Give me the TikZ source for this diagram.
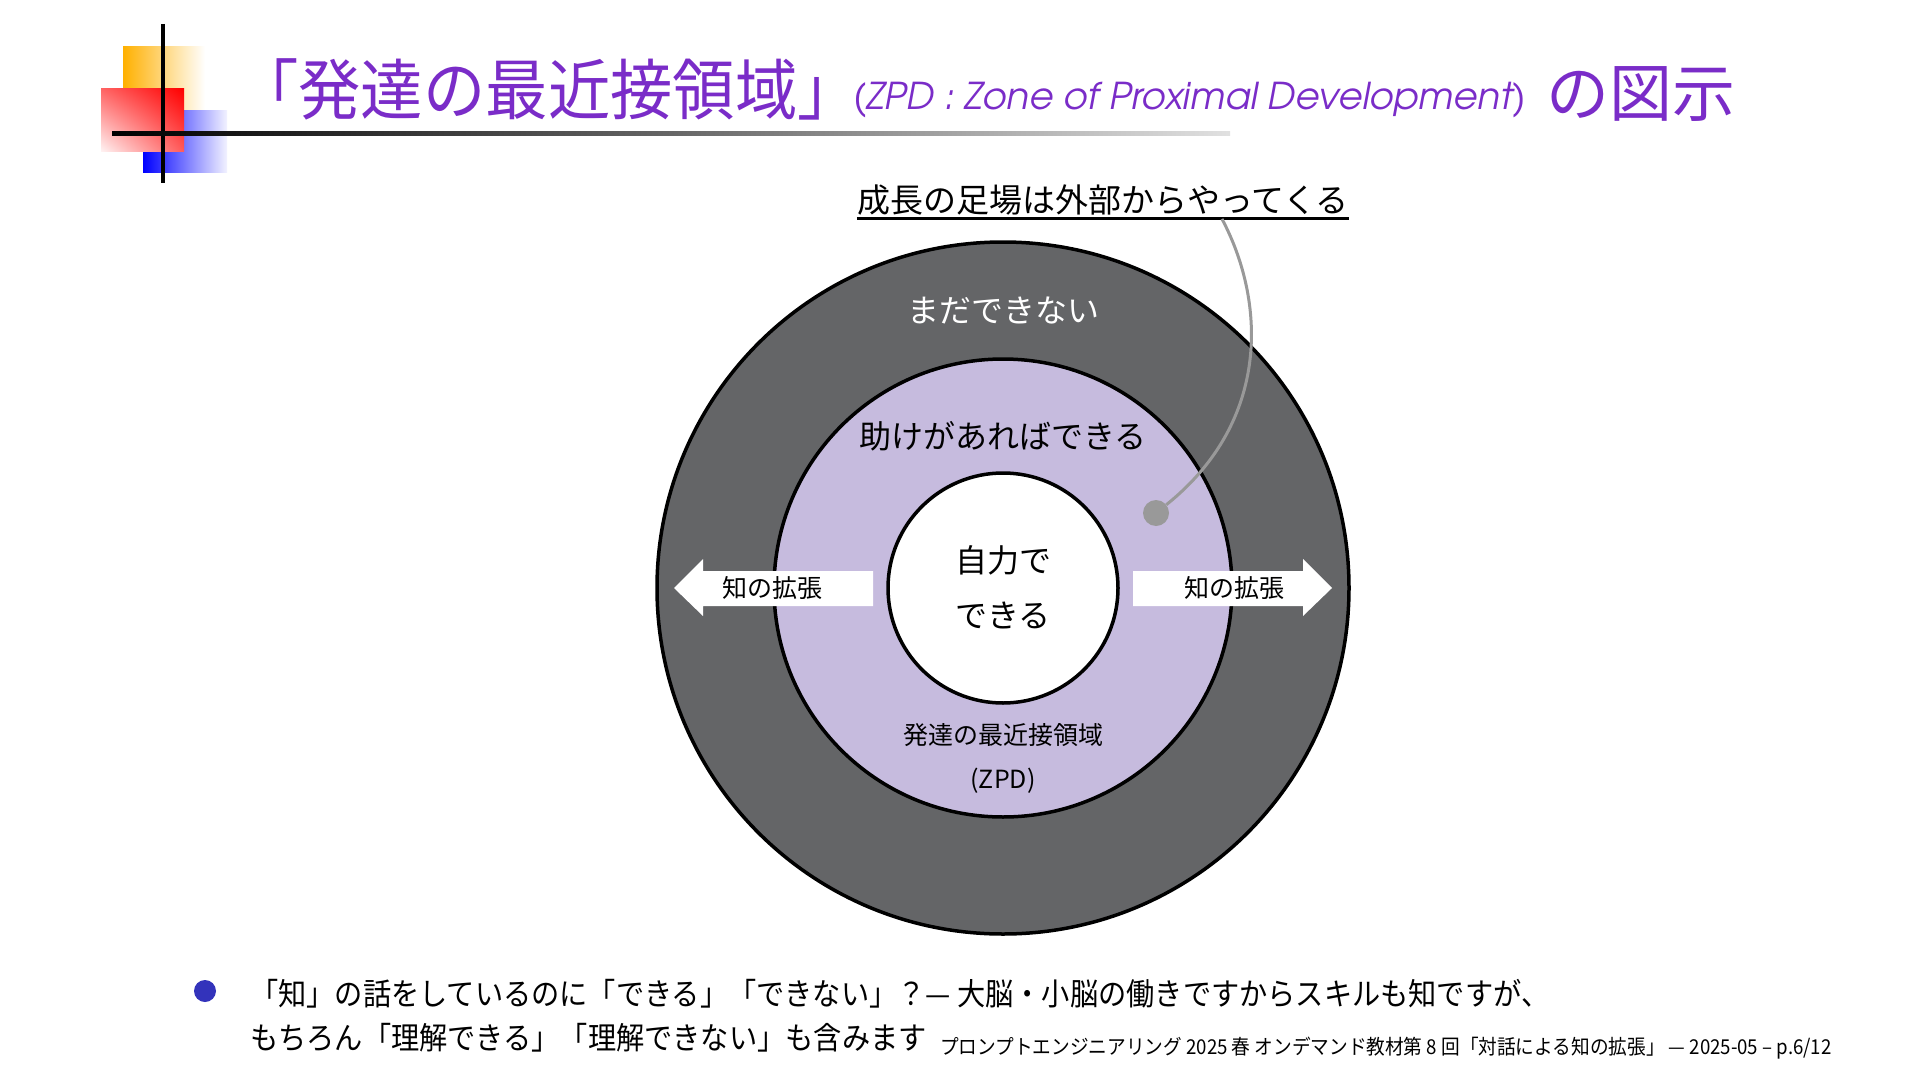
\documentclass[tikz,border=0pt]{standalone}
\usepackage{fontspec}
\usetikzlibrary{shadings}
\setmainfont{Noto Sans CJK JP}
\newfontfamily\jp{Noto Sans CJK JP}
\newfontfamily\jpt[FakeStretch=0.945]{Noto Sans CJK JP}
\newfontfamily\jpb[FakeStretch=0.91]{Noto Sans CJK JP}
\newfontfamily\advit{texgyreadventor-italic.otf}
\definecolor{ttl}{RGB}{122,44,200}
\definecolor{ringgray}{RGB}{100,101,103}
\definecolor{lav}{RGB}{198,187,222}
\definecolor{conn}{RGB}{153,153,153}
\definecolor{bul}{RGB}{51,51,187}
\definecolor{yel}{RGB}{255,176,0}
\tikzset{
  ring/.style={circle, draw=black, line width=3.5pt, inner sep=0pt},
  lbl/.style={inner sep=0pt, font=\jp\fontsize{32}{55}\selectfont, align=center},
  small/.style={inner sep=0pt, font=\jp\fontsize{25}{44}\selectfont, align=center},
  ttltext/.style={anchor=base west, inner sep=0pt, text=ttl},
  body/.style={anchor=west, inner sep=0pt, font=\jpb\fontsize{31}{31}\selectfont},
}
\begin{document}
\begin{tikzpicture}[x=1pt,y=-1pt]
\useasboundingbox (0,0) rectangle (1920,1081);
\fill[white] (0,0) rectangle (1920,1081);
% logo
\shade[left color=yel, right color=white] (123,47) rectangle (205,110);
\shade[left color=blue, right color=blue!5] (143,110) rectangle (227,172);
\shade[upper right=red, lower left=red!5, upper left=red!60, lower right=red!65] (101,89) rectangle (184,151);
\draw[line width=3.5pt] (163,24) -- (163,183);
\shade[left color=black, right color=black!12, middle color=black!60] (112,131) rectangle (1230,135);
% title
\node[ttltext, font=\jpt\fontsize{66}{66}\selectfont] (t1) at (236,114) {「発達の最近接領域」};
\node[ttltext, font=\advit\fontsize{37}{37}\selectfont] (t2) at (853,110) {(ZPD : Zone of Proximal Development)};
\node[ttltext, font=\jp\fontsize{63}{63}\selectfont] (t3) at (1546,117) {の図示};
% circles
\node[ring, fill=ringgray, minimum size=692pt] (outer) at (1003,588) {};
\node[ring, fill=lav, minimum size=458pt] (mid) at (1003,588) {};
\node[ring, fill=white, minimum size=230pt] (inner) at (1003,588) {};
% arrows
\fill[white] (674,588) -- (703,559) -- (703,571) -- (873,571) -- (873,606) -- (703,606) -- (703,616) -- cycle;
\fill[white] (1332,588) -- (1303,559) -- (1303,571) -- (1133,571) -- (1133,606) -- (1303,606) -- (1303,616) -- cycle;
\node[small] (kl) at (772,588) {知の拡張};
\node[small] (kr) at (1234,588) {知の拡張};
% ring labels
\node[lbl, text=white] (cannot) at (1003,310) {まだできない};
\node[lbl] (help) at (1003,436) {助けがあればできる};
\node[lbl] (self) at (1003,587) {自力で\\できる};
\node[small] (zpd) at (1003,758) {発達の最近接領域\\(ZPD)};
% caption with underline and connector
\node[inner sep=0pt, font=\jp\fontsize{33}{33}\selectfont] (cap) at (1103,200) {成長の足場は外部からやってくる};
\coordinate (ul) at (0,218);
\draw[line width=3pt] (cap.west |- ul) -- (cap.east |- ul);
\coordinate (cs) at (1222,219);
\node[circle, fill=conn, minimum size=26pt, inner sep=0pt] (dot) at (1156,513) {};
\draw[conn, line width=3pt] (cs) .. controls (1265,300) and (1272,420) .. (dot);
% bullet text
\node[circle, fill=bul, minimum size=22pt, inner sep=0pt] (bullet) at (205,991) {};
\node[body] (b1) at (250,994) {「知」の話をしているのに「できる」「できない」？— 大脳・小脳の働きですからスキルも知ですが、};
\node[body] (b2) at (250,1038) {もちろん「理解できる」「理解できない」も含みます};
\node[anchor=west, inner sep=0pt, font=\jpb\fontsize{20.5}{20.5}\selectfont] (foot) at (940,1048) {プロンプトエンジニアリング 2025 春 オンデマンド教材第 8 回「対話による知の拡張」 — 2025-05 – p.6/12};
\end{tikzpicture}
\end{document}
